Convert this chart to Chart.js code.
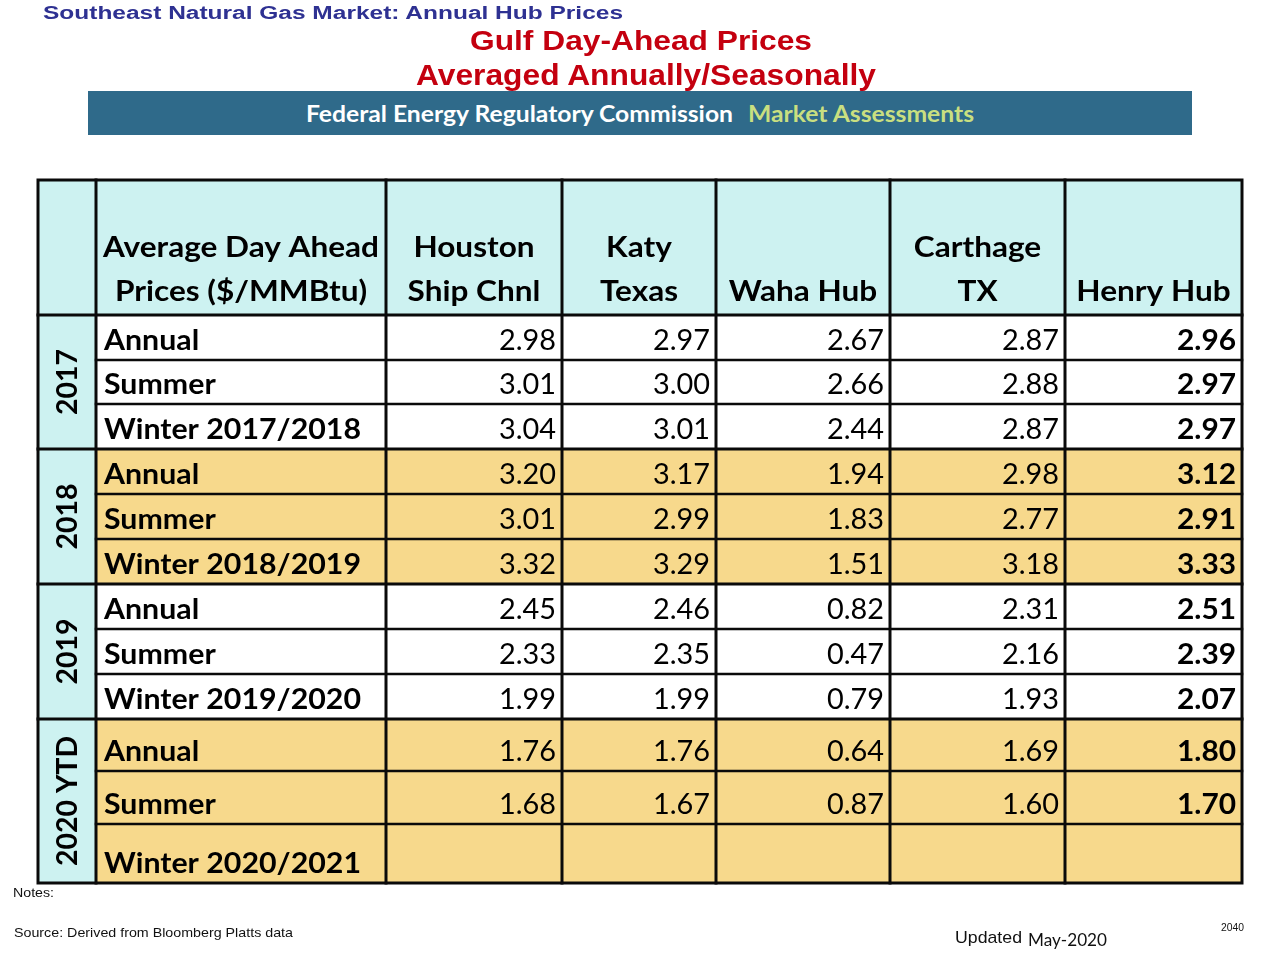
<!DOCTYPE html>
<html>
<head>
<meta charset="utf-8">
<title>Gulf Day-Ahead Prices Averaged Annually/Seasonally</title>
<script src="https://cdn.jsdelivr.net/npm/chart.js@4.4.0/dist/chart.umd.min.js"></script>
<style>
html,body{margin:0;padding:0;background:#ffffff;}
#page{position:relative;width:1280px;height:960px;overflow:hidden;background:#ffffff;}
#c{position:absolute;left:0;top:0;}
#banner{position:absolute;left:88px;top:91px;width:1104px;height:44px;background:#2f6a8a;}
.t{position:absolute;white-space:nowrap;line-height:1;transform-origin:0 0;}
</style>
</head>
<body>
<div id="page">
  <canvas id="c" width="1280" height="960"></canvas>
  <div id="banner"></div>
</div>
<script>
// ---------------- DATA ----------------
const years = ['2017', '2018', '2019', '2020 YTD'];
const periods = [
  'Annual', 'Summer', 'Winter 2017/2018',
  'Annual', 'Summer', 'Winter 2018/2019',
  'Annual', 'Summer', 'Winter 2019/2020',
  'Annual', 'Summer', 'Winter 2020/2021'
];
const labelHeader = ['Average Day Ahead', 'Prices ($/MMBtu)'];
const hubHeaders = [
  ['Houston', 'Ship Chnl'],
  ['Katy', 'Texas'],
  ['', 'Waha Hub'],
  ['Carthage', 'TX'],
  ['', 'Henry Hub']
];
const houston  = [2.98, 3.01, 3.04, 3.20, 3.01, 3.32, 2.45, 2.33, 1.99, 1.76, 1.68, null];
const katy     = [2.97, 3.00, 3.01, 3.17, 2.99, 3.29, 2.46, 2.35, 1.99, 1.76, 1.67, null];
const waha     = [2.67, 2.66, 2.44, 1.94, 1.83, 1.51, 0.82, 0.47, 0.79, 0.64, 0.87, null];
const carthage = [2.87, 2.88, 2.87, 2.98, 2.77, 3.18, 2.31, 2.16, 1.93, 1.69, 1.60, null];
const henry    = [2.96, 2.97, 2.97, 3.12, 2.91, 3.33, 2.51, 2.39, 2.07, 1.80, 1.70, null];
const hubSeries = [houston, katy, waha, carthage, henry];

// ---------------- LAYOUT / STYLE ----------------
const layout = {
  colWidths: [58, 290, 176, 154, 174, 175, 177],
  rowHeights: [135, 45, 44, 45, 45, 45, 45, 45, 45, 45, 52, 53, 59]
};
const style = {
  cyan: '#cdf2f1',
  tan: '#f7d98c',
  white: '#ffffff',
  line: '#0a0a0a',
  font: 'Lato',
  size: 29
};
const groupFill = [style.white, style.tan, style.white, style.tan];

function cumulative(a) { const out = [0]; a.forEach(v => out.push(out[out.length - 1] + v)); return out; }
const colEdges = cumulative(layout.colWidths);
const rowEdges = cumulative(layout.rowHeights);
const nCols = layout.colWidths.length, nRows = layout.rowHeights.length;

// ---------------- HTML TEXT ----------------
const page = document.getElementById('page');
function place(text, o) {
  const s = document.createElement('span');
  s.className = 't';
  s.style.font = o.font;
  s.style.color = o.color;
  s.appendChild(document.createTextNode(text));
  const mark = document.createElement('i');
  mark.style.cssText = 'display:inline-block;width:0;height:0;vertical-align:baseline;';
  s.appendChild(mark);
  page.appendChild(s);
  const w = s.getBoundingClientRect().width;
  const sx = o.width ? o.width / w : 1;
  const left = o.center !== undefined ? o.center - (w * sx) / 2 : o.left;
  s.style.left = left + 'px';
  s.style.top = (o.baseline - mark.offsetTop) + 'px';
  s.style.transform = 'scaleX(' + sx + ')';
  return s;
}
const ARIAL = '"Liberation Sans", Arial, sans-serif';
place('Southeast Natural Gas Market: Annual Hub Prices', {font: 'bold 18px ' + ARIAL, color: '#2e3192', left: 43, baseline: 19, width: 580});
place('Gulf Day-Ahead Prices', {font: 'bold 27px ' + ARIAL, color: '#c4000f', center: 641, baseline: 50, width: 342});
place('Averaged Annually/Seasonally', {font: 'bold 29px ' + ARIAL, color: '#c4000f', center: 646, baseline: 85, width: 460});
place('Federal Energy Regulatory Commission', {font: 'bold 23px Lato, sans-serif', color: '#ffffff', left: 306, baseline: 122, width: 427});
place('Market Assessments', {font: 'bold 23px Lato, sans-serif', color: '#c9df80', left: 748, baseline: 122, width: 226});
place('Notes:', {font: '13px ' + ARIAL, color: '#111111', left: 13, baseline: 897, width: 41});
place('Source: Derived from Bloomberg Platts data', {font: '13px ' + ARIAL, color: '#111111', left: 14, baseline: 937, width: 279});
place('Updated', {font: '17px ' + ARIAL, color: '#111111', left: 955, baseline: 943, width: 67});
place('May-2020', {font: '17px Lato, sans-serif', color: '#111111', left: 1028, baseline: 946, width: 79});
place('2040', {font: '10px ' + ARIAL, color: '#111111', left: 1221, baseline: 931, width: 23});

// ---------------- TABLE DRAWN THROUGH CHART.JS SCALES ----------------
const boldFont = 'bold ' + style.size + 'px ' + style.font;
const regFont = style.size + 'px ' + style.font;

function measure(ctx, s, font) { ctx.save(); ctx.font = font; const w = ctx.measureText(s).width; ctx.restore(); return w; }
function drawText(ctx, s, px, py, font, align, sx, color) {
  ctx.save();
  ctx.font = font;
  ctx.fillStyle = color || '#000000';
  ctx.textAlign = align;
  ctx.textBaseline = 'alphabetic';
  ctx.translate(px, py);
  ctx.scale(sx, 1);
  ctx.fillText(s, 0, 0);
  ctx.restore();
}

const tablePlugin = {
  id: 'tablePlugin',
  beforeDatasetsDraw(chart) {
    const {ctx, scales: {x, y}} = chart;
    const X = i => x.getPixelForValue(colEdges[i]);
    const Y = i => y.getPixelForValue(rowEdges[i]);
    ctx.save();
    // header row
    ctx.fillStyle = style.cyan;
    ctx.fillRect(X(0), Y(0), X(nCols) - X(0), Y(1) - Y(0));
    // year column
    ctx.fillRect(X(0), Y(1), X(1) - X(0), Y(nRows) - Y(1));
    // data rows
    periods.forEach((p, i) => {
      ctx.fillStyle = groupFill[Math.floor(i / 3)];
      ctx.fillRect(X(1), Y(i + 1), X(nCols) - X(1), Y(i + 2) - Y(i + 1));
    });
    // grid lines
    ctx.strokeStyle = style.line;
    ctx.lineCap = 'square';
    for (let r = 1; r < nRows; r++) {
      const groupLine = r === 1 || (r - 1) % 3 === 0;
      ctx.lineWidth = groupLine ? 3 : 2.5;
      ctx.beginPath();
      ctx.moveTo(groupLine ? X(0) : X(1), Y(r));
      ctx.lineTo(X(nCols), Y(r));
      ctx.stroke();
    }
    ctx.lineWidth = 3;
    for (let c = 1; c < nCols; c++) {
      ctx.beginPath();
      ctx.moveTo(X(c), Y(0));
      ctx.lineTo(X(c), Y(nRows));
      ctx.stroke();
    }
    ctx.lineWidth = 3;
    ctx.strokeRect(X(0), Y(0), X(nCols) - X(0), Y(nRows) - Y(0));
    ctx.restore();
  },
  afterDatasetsDraw(chart) {
    const {ctx, scales: {x, y}} = chart;
    const X = i => x.getPixelForValue(colEdges[i]);
    const Y = i => y.getPixelForValue(rowEdges[i]);
    const sxText = 276 / measure(ctx, 'Average Day Ahead', boldFont);
    const sxLabel = 257 / measure(ctx, 'Winter 2017/2018', boldFont);
    const sxNum = 57 / measure(ctx, '2.98', regFont);
    const sxNumB = 59 / measure(ctx, '2.96', boldFont);
    const sxYear = 66 / measure(ctx, '2017', boldFont);
    // header
    const hdrBase = [Y(1) - 58, Y(1) - 14];
    labelHeader.forEach((s, k) => drawText(ctx, s, (X(1) + X(2)) / 2, hdrBase[k], boldFont, 'center', sxText));
    hubHeaders.forEach((lines, h) => {
      lines.forEach((s, k) => { if (s) drawText(ctx, s, (X(h + 2) + X(h + 3)) / 2, hdrBase[k], boldFont, 'center', sxText); });
    });
    // period labels
    periods.forEach((p, i) => drawText(ctx, p, X(1) + 8, Y(i + 2) - 10, boldFont, 'left', sxLabel));
    // year labels (rotated)
    years.forEach((yr, g) => {
      const cy = (Y(g * 3 + 1) + Y(g * 3 + 4)) / 2;
      const cx = (X(0) + X(1)) / 2 + 10;
      ctx.save();
      ctx.translate(cx, cy);
      ctx.rotate(-Math.PI / 2);
      drawText(ctx, yr, 0, 0, boldFont, 'center', sxYear);
      ctx.restore();
    });
    // values (positioned by the datasets' point elements)
    chart.data.datasets.forEach((ds, k) => {
      const meta = chart.getDatasetMeta(k);
      const bold = k === hubSeries.length - 1;
      meta.data.forEach((el, i) => {
        const raw = ds.data[i];
        drawText(ctx, raw.v.toFixed(2), el.x - 6, el.y - 10, bold ? boldFont : regFont, 'right', bold ? sxNumB : sxNum);
      });
    });
  }
};

const hubLabels = hubHeaders.map(h => h.filter(Boolean).join(' '));
new Chart(document.getElementById('c'), {
  type: 'scatter',
  data: {
    datasets: hubSeries.map((vals, k) => ({
      label: hubLabels[k],
      data: vals.map((v, i) => ({x: colEdges[k + 3], y: rowEdges[i + 2], v: v})).filter(d => d.v !== null),
      pointRadius: 0,
      pointHoverRadius: 0,
      showLine: false
    }))
  },
  options: {
    responsive: false,
    animation: false,
    devicePixelRatio: 1,
    layout: {padding: {left: 38, top: 180, right: 38, bottom: 77}},
    plugins: {legend: {display: false}, tooltip: {enabled: false}, title: {display: false}},
    events: [],
    scales: {
      x: {type: 'linear', min: 0, max: colEdges[nCols], display: false},
      y: {type: 'linear', min: 0, max: rowEdges[nRows], reverse: true, display: false}
    }
  },
  plugins: [tablePlugin]
});
</script>
</body>
</html>
